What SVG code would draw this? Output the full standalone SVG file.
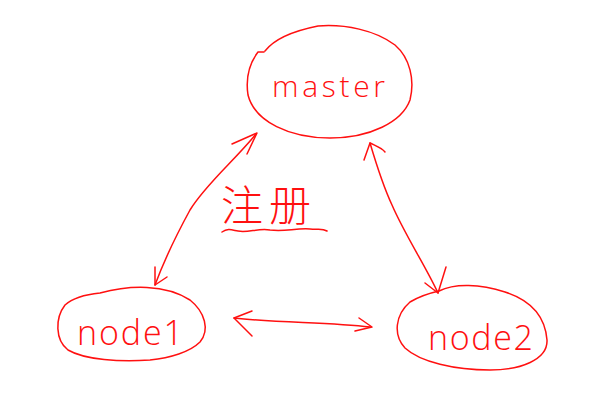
<svg xmlns="http://www.w3.org/2000/svg" width="591" height="410" viewBox="0 0 591 410">
<style>
.ink{fill:none;stroke:#ff1010;stroke-width:1.5;stroke-linecap:round;stroke-linejoin:round}
.hw{fill:#ff1010;font-family:"Open Sans","Liberation Sans",sans-serif;font-weight:300}
.cjk{fill:#ff1010;font-family:"Noto Sans CJK SC",sans-serif;font-weight:300}
</style>
<rect width="591" height="410" fill="#ffffff"/>
<g id="master">
<path class="ink" d="M265,51 C275,38 298,30 318,26 C345,24 375,30 395,45 C410,58 415,80 410,100 C402,122 370,138 330,138 C290,138 255,122 248,95 C245,75 252,60 258,52 L264,52"/>
<text class="hw" x="272" y="97" font-size="30" textLength="113" lengthAdjust="spacing">master</text>
</g>
<g id="node1">
<path class="ink" d="M100,293 C130,285 165,284 190,300 C205,312 210,330 200,342 C190,352 170,358 150,360 C120,362 85,360 68,350 C55,340 55,318 65,305 C75,296 90,294 100,293 Z"/>
<text class="hw" x="77" y="345" font-size="34" textLength="106" lengthAdjust="spacing">node1</text>
</g>
<g id="node2">
<path class="ink" d="M439,291 C455,283 480,284 505,292 C530,300 545,315 547,340 C548,360 520,370 490,370 C455,370 420,362 405,348 C393,335 395,315 410,302 C420,296 430,293 439,291 Z"/>
<text class="hw" x="428" y="350" font-size="34" textLength="105" lengthAdjust="spacing">node2</text>
</g>
<g id="connectors">
<path class="ink" d="M256,134 C235,160 205,185 190,210 C178,232 165,258 155,285"/>
<path class="ink" d="M232,144 L257,133 L247,154"/>
<path class="ink" d="M155,267 L155,285 L167,277"/>
<path class="ink" d="M370,143 C378,170 385,190 392,205 C405,235 425,265 438,293"/>
<path class="ink" d="M364,160 L370,143 C376,146 382,148 385,152"/>
<path class="ink" d="M425,283 L438,293 L446,267"/>
<path class="ink" d="M234,318 C280,323 330,322 370,327"/>
<path class="ink" d="M252,311 L234,318 L252,336"/>
<path class="ink" d="M359,318 L372,327 L355,331"/>
</g>
<g id="label">
<text class="cjk" x="221" y="221" font-size="42" textLength="90" lengthAdjust="spacing">注册</text>
<path class="ink" d="M222,232 C228,228 232,230 238,231 C248,233 258,228 270,230 C285,232 295,228 310,229 C318,230 322,228 327,231"/>
</g>
</svg>
